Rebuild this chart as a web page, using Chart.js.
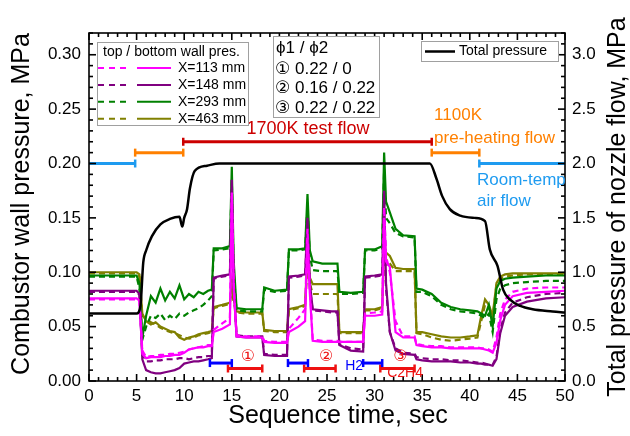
<!DOCTYPE html>
<html>
<head>
<meta charset="utf-8">
<script src="https://cdn.jsdelivr.net/npm/chart.js@4.4.1/dist/chart.umd.min.js"></script>
<style>
  html, body { margin: 0; padding: 0; background: #fff; }
</style>
</head>
<body>
<canvas id="seqChart" width="630" height="436"></canvas>
<script>
/* DATA */

// shared time grid for the wall pressure traces (sec)
const seqTime = [
  0, 5.0,
  5.3, 5.6, 6.0, 6.5, 7.0, 7.5, 8.0, 8.5, 9.0, 9.5, 10.0, 10.5, 11.0, 11.5, 12.0, 12.5, 12.9,
  13.1, 14.0, 14.8, 15.0, 15.2, 15.5, 16.5, 17.5, 18.2,
  18.4, 19.5, 20.8,
  21.0, 22.0, 22.7, 22.95, 23.2, 23.5, 24.5, 25.5, 26.1,
  26.3, 27.5, 28.8,
  29.0, 30.0, 30.8, 31.0, 31.2, 31.6, 32.2, 33.0, 34.2,
  34.4, 35.0, 36.0, 37.0, 38.0, 39.0, 40.0, 40.8, 41.2, 41.6,
  42.0, 42.4, 42.8, 43.2, 43.7, 44.5, 46.0, 48.0, 50.0
];

// X=113 mm (MPa)
const p113Top = [
  0.075, 0.075,
  0.073, 0.028, 0.022, 0.023, 0.023, 0.024, 0.024, 0.025, 0.025, 0.026, 0.027, 0.029, 0.030, 0.031, 0.032, 0.033, 0.033,
  0.047, 0.053, 0.058, 0.175, 0.090, 0.042, 0.041, 0.041, 0.041,
  0.037, 0.036, 0.036,
  0.048, 0.058, 0.066, 0.140, 0.085, 0.038, 0.037, 0.037, 0.037,
  0.036, 0.036, 0.036,
  0.062, 0.063, 0.064, 0.160, 0.115, 0.100, 0.055, 0.041, 0.041,
  0.034, 0.033, 0.032, 0.032, 0.031, 0.031, 0.031, 0.031, 0.030, 0.030,
  0.029, 0.027, 0.040, 0.062, 0.075, 0.082, 0.085, 0.086, 0.086
];
const p113Bot = [
  0.076, 0.076,
  0.074, 0.025, 0.021, 0.022, 0.022, 0.022, 0.023, 0.023, 0.024, 0.024, 0.026, 0.029, 0.030, 0.031, 0.031, 0.032, 0.032,
  0.045, 0.048, 0.052, 0.170, 0.085, 0.041, 0.040, 0.040, 0.040,
  0.036, 0.035, 0.035,
  0.045, 0.050, 0.055, 0.130, 0.080, 0.037, 0.036, 0.036, 0.036,
  0.036, 0.036, 0.036,
  0.060, 0.060, 0.061, 0.150, 0.110, 0.105, 0.045, 0.040, 0.040,
  0.033, 0.032, 0.031, 0.031, 0.030, 0.030, 0.030, 0.030, 0.030, 0.029,
  0.028, 0.026, 0.035, 0.056, 0.070, 0.078, 0.081, 0.082, 0.083
];

// X=148 mm
const p148Top = [
  0.082, 0.082,
  0.079, 0.025, 0.018, 0.018, 0.019, 0.019, 0.020, 0.020, 0.020, 0.021, 0.021, 0.020, 0.021, 0.022, 0.022, 0.023, 0.023,
  0.094, 0.096, 0.097, 0.175, 0.085, 0.042, 0.041, 0.041, 0.041,
  0.025, 0.024, 0.024,
  0.095, 0.096, 0.097, 0.140, 0.085, 0.065, 0.064, 0.063, 0.063,
  0.034, 0.030, 0.029,
  0.095, 0.096, 0.097, 0.165, 0.085, 0.045, 0.030, 0.026, 0.025,
  0.022, 0.021, 0.020, 0.020, 0.019, 0.019, 0.018, 0.017, 0.017, 0.016,
  0.015, 0.015, 0.022, 0.047, 0.063, 0.072, 0.077, 0.080, 0.081
];
const p148Bot = [
  0.083, 0.083,
  0.080, 0.020, 0.010, 0.008, 0.007, 0.007, 0.008, 0.009, 0.010, 0.012, 0.016, 0.017, 0.018, 0.018, 0.019, 0.020, 0.021,
  0.095, 0.097, 0.098, 0.185, 0.090, 0.041, 0.040, 0.040, 0.040,
  0.024, 0.023, 0.023,
  0.096, 0.097, 0.098, 0.150, 0.090, 0.066, 0.065, 0.064, 0.064,
  0.033, 0.028, 0.027,
  0.096, 0.097, 0.098, 0.175, 0.090, 0.045, 0.028, 0.025, 0.024,
  0.020, 0.019, 0.018, 0.018, 0.018, 0.017, 0.017, 0.016, 0.016, 0.015,
  0.015, 0.014, 0.020, 0.044, 0.060, 0.068, 0.073, 0.076, 0.077
];

// X=293 mm
const p293Top = [
  0.096, 0.096,
  0.085, 0.038, 0.050, 0.060, 0.058, 0.062, 0.056, 0.060, 0.057, 0.062, 0.060, 0.063, 0.065, 0.067, 0.070, 0.074, 0.078,
  0.120, 0.121, 0.122, 0.185, 0.100, 0.065, 0.064, 0.064, 0.064,
  0.084, 0.082, 0.083,
  0.120, 0.120, 0.121, 0.160, 0.115, 0.102, 0.101, 0.101, 0.101,
  0.080, 0.080, 0.081,
  0.120, 0.120, 0.122, 0.195, 0.150, 0.145, 0.136, 0.133, 0.132,
  0.082, 0.082, 0.078, 0.070, 0.066, 0.064, 0.063, 0.062, 0.060, 0.058,
  0.062, 0.045, 0.075, 0.085, 0.088, 0.090, 0.091, 0.092, 0.092
];
const p293Bot = [
  0.097, 0.097,
  0.090, 0.040, 0.060, 0.078, 0.072, 0.085, 0.074, 0.082, 0.076, 0.088, 0.075, 0.080, 0.077, 0.082, 0.080, 0.083, 0.084,
  0.122, 0.122, 0.124, 0.197, 0.110, 0.067, 0.066, 0.066, 0.066,
  0.086, 0.083, 0.084,
  0.121, 0.121, 0.122, 0.172, 0.120, 0.110, 0.108, 0.108, 0.108,
  0.082, 0.081, 0.082,
  0.121, 0.121, 0.124, 0.210, 0.165, 0.155, 0.140, 0.134, 0.133,
  0.085, 0.084, 0.080, 0.072, 0.068, 0.066, 0.065, 0.064, 0.062, 0.060,
  0.070, 0.050, 0.085, 0.092, 0.094, 0.095, 0.096, 0.097, 0.097
];

// X=463 mm
const p463Top = [
  0.099, 0.099,
  0.096, 0.060, 0.057, 0.054, 0.052, 0.049, 0.047, 0.045, 0.044, 0.042, 0.040, 0.039, 0.040, 0.042, 0.043, 0.044, 0.045,
  0.067, 0.069, 0.071, 0.085, 0.072, 0.063, 0.062, 0.062, 0.062,
  0.046, 0.045, 0.045,
  0.065, 0.067, 0.069, 0.105, 0.090, 0.080, 0.080, 0.080, 0.080,
  0.044, 0.044, 0.044,
  0.065, 0.065, 0.067, 0.120, 0.112, 0.108, 0.101, 0.101, 0.101,
  0.044, 0.043, 0.040, 0.038, 0.037, 0.038, 0.039, 0.040, 0.055, 0.070,
  0.068, 0.058, 0.088, 0.094, 0.096, 0.097, 0.098, 0.098, 0.098
];
const p463Bot = [
  0.100, 0.100,
  0.098, 0.062, 0.055, 0.052, 0.054, 0.050, 0.048, 0.046, 0.045, 0.040, 0.038, 0.040, 0.041, 0.043, 0.044, 0.045, 0.046,
  0.068, 0.070, 0.072, 0.090, 0.075, 0.064, 0.063, 0.063, 0.063,
  0.047, 0.046, 0.046,
  0.066, 0.068, 0.070, 0.120, 0.095, 0.089, 0.089, 0.089, 0.089,
  0.045, 0.045, 0.045,
  0.066, 0.066, 0.068, 0.125, 0.118, 0.115, 0.104, 0.103, 0.103,
  0.045, 0.045, 0.043, 0.041, 0.040, 0.040, 0.041, 0.042, 0.060, 0.075,
  0.070, 0.060, 0.090, 0.096, 0.098, 0.099, 0.099, 0.099, 0.099
];

// total pressure of nozzle flow (right axis, MPa)
const totalTime = [0, 5.0, 5.4, 5.7, 6.0, 6.6, 7.5, 8.5, 9.5, 9.8, 10.0, 10.3, 10.6, 11.1, 12.4, 13.7,
  35.8, 36.5, 37.1, 37.9, 39.0, 40.5, 41.6, 42.1, 42.9, 43.5, 44.2, 45.3, 46.6, 48.7, 50.0];
const totalPres = [0.62, 0.62, 0.69, 1.09, 1.20, 1.33, 1.44, 1.49, 1.51, 1.42, 1.50, 1.58, 1.77, 1.93, 1.98, 2.00,
  2.00, 1.86, 1.70, 1.58, 1.52, 1.50, 1.47, 1.21, 1.06, 0.84, 0.75, 0.69, 0.66, 0.64, 0.63];

// flow phases (top bars)
const phaseStart = [0, 4.85, 9.9, 36.0, 41.0];
const phaseEnd = [4.85, 9.9, 36.0, 41.0, 50];
const phaseLevel = [0.200, 0.210, 0.220, 0.210, 0.200];

// fuel injection periods (bottom bars)
const h2Start = [12.7, 20.9, 28.8];
const h2End = [15.0, 23.0, 30.8];
const fuelStart = [14.6, 22.6, 30.6];
const fuelEnd = [18.2, 25.9, 34.2];
const h2Level = 0.0165;
const fuelLevel = 0.0115;

// equivalence ratio cases
const caseMarks = ['①', '②', '③'];
const phi1 = ['0.22', '0.16', '0.22'];
const phi2 = ['0', '0.22', '0.22'];

const wallLabels = ['X=113 mm', 'X=148 mm', 'X=293 mm', 'X=463 mm'];

/* STYLE */

const FONT = '"Liberation Sans", Arial, "DejaVu Sans", "Noto Sans CJK JP", sans-serif';
const wallColors = ['#ff00ff', '#800080', '#008000', '#808000'];
const C_AIR = '#1e9bf0', C_HEAT = '#ff8000', C_TEST = '#cc0000';
const C_H2 = '#0000ff', C_FUEL = '#ee1111';

function wallSet(label, vals, color, dashed) {
  return {
    label: label,
    data: seqTime.map((t, i) => ({ x: t, y: vals[i] })),
    borderColor: color,
    borderWidth: 2.2,
    borderDash: dashed ? [6, 4] : [],
    pointRadius: 0,
    tension: 0,
    yAxisID: 'y'
  };
}

function barSet(color, x0, x1, level, r0, r1) {
  return {
    data: [{ x: x0, y: level }, { x: x1, y: level }],
    borderColor: color,
    borderWidth: 3,
    pointStyle: 'line',
    rotation: 90,
    pointRadius: [r0, r1],
    pointBorderColor: color,
    pointBorderWidth: 2.5,
    pointHoverRadius: 0,
    yAxisID: 'y'
  };
}

var datasets = [];
var phaseColors = [C_AIR, C_HEAT, C_TEST, C_HEAT, C_AIR];
phaseStart.forEach(function(s, i) {
  datasets.push(barSet(phaseColors[i], s, phaseEnd[i], phaseLevel[i],
    s === 0 ? 0 : 4, phaseEnd[i] === 50 ? 0 : 4));
});
h2Start.forEach(function(s, i) {
  datasets.push(barSet(C_H2, s, h2End[i], h2Level, 4, 4));
  datasets.push(barSet(C_FUEL, fuelStart[i], fuelEnd[i], fuelLevel, 4, 4));
});

datasets.push({
  label: 'Total pressure',
  data: totalTime.map((t, i) => ({ x: t, y: totalPres[i] })),
  borderColor: '#000',
  borderWidth: 2.5,
  pointRadius: 0,
  cubicInterpolationMode: 'monotone',
  yAxisID: 'y2'
});
datasets.push(wallSet('X=113 mm top', p113Top, wallColors[0], true));
datasets.push(wallSet('X=113 mm bottom', p113Bot, wallColors[0], false));
datasets.push(wallSet('X=148 mm top', p148Top, wallColors[1], true));
datasets.push(wallSet('X=148 mm bottom', p148Bot, wallColors[1], false));
datasets.push(wallSet('X=293 mm top', p293Top, wallColors[2], true));
datasets.push(wallSet('X=293 mm bottom', p293Bot, wallColors[2], false));
datasets.push(wallSet('X=463 mm top', p463Top, wallColors[3], true));
datasets.push(wallSet('X=463 mm bottom', p463Bot, wallColors[3], false));

/* PLUGINS */

function seg(ctx, x0, y0, x1, y1) {
  ctx.beginPath(); ctx.moveTo(x0, y0); ctx.lineTo(x1, y1); ctx.stroke();
}

// frame with inward major / minor ticks on all four sides
const frameTicks = {
  id: 'frameTicks',
  afterDatasetsDraw(chart) {
    const { ctx, chartArea: a, scales } = chart;
    ctx.save();
    ctx.strokeStyle = '#000';
    ctx.lineWidth = 1.6;
    ctx.strokeRect(a.left, a.top, a.right - a.left, a.bottom - a.top);
    for (let k = 0; k <= 50; k++) {
      const px = scales.x.getPixelForValue(k);
      const len = k % 5 === 0 ? 7 : 4;
      seg(ctx, px, a.bottom, px, a.bottom - len);
      seg(ctx, px, a.top, px, a.top + len);
    }
    for (let k = 0; k <= 32; k++) {
      const len = k % 5 === 0 ? 7 : 4;
      const pl = scales.y.getPixelForValue(k / 100);
      const pr = scales.y2.getPixelForValue(k / 10);
      seg(ctx, a.left, pl, a.left + len, pl);
      seg(ctx, a.right, pr, a.right - len, pr);
    }
    ctx.restore();
  }
};

// axis titles, annotation texts and the three legend boxes
const decorations = {
  id: 'decorations',
  afterDraw(chart) {
    const { ctx, scales: { x, y } } = chart;
    ctx.save();
    ctx.textBaseline = 'middle';

    // axis titles
    ctx.fillStyle = '#000';
    ctx.font = '25px ' + FONT;
    ctx.textAlign = 'center';
    ctx.fillText('Sequence time, sec', 338, 416);
    ctx.save();
    ctx.translate(22, 204); ctx.rotate(-Math.PI / 2);
    ctx.fillText('Combustor wall pressure, MPa', 0, 0);
    ctx.restore();
    ctx.save();
    ctx.translate(618, 207); ctx.rotate(-Math.PI / 2);
    ctx.fillText('Total pressure of nozzle flow, MPa', 0, 0);
    ctx.restore();

    // flow phase texts
    ctx.font = '18px ' + FONT;
    ctx.fillStyle = C_TEST;
    ctx.fillText('1700K test flow', x.getPixelForValue(23.0), y.getPixelForValue(0.232));
    ctx.font = '17px ' + FONT;
    ctx.textAlign = 'left';
    ctx.fillStyle = C_HEAT;
    ctx.fillText('1100K', x.getPixelForValue(36.25), y.getPixelForValue(0.244));
    ctx.fillText('pre-heating flow', x.getPixelForValue(36.25), y.getPixelForValue(0.223));
    ctx.fillStyle = C_AIR;
    ctx.fillText('Room-temp', x.getPixelForValue(40.75), y.getPixelForValue(0.185));
    ctx.fillText('air flow', x.getPixelForValue(40.75), y.getPixelForValue(0.165));

    // injection texts
    ctx.textAlign = 'center';
    ctx.font = '16px ' + FONT;
    ctx.fillStyle = C_FUEL;
    const markAt = [16.7, 24.9, 32.7];
    caseMarks.forEach(function(m, i) {
      ctx.fillText(m, x.getPixelForValue(markAt[i]), y.getPixelForValue(0.022));
    });
    ctx.font = '14px ' + FONT;
    ctx.fillStyle = C_H2;
    ctx.fillText('H2', x.getPixelForValue(27.85), y.getPixelForValue(0.0135));
    ctx.fillStyle = C_FUEL;
    ctx.fillText('C2H4', x.getPixelForValue(33.2), y.getPixelForValue(0.0075));

    // legend: wall pressure
    ctx.textAlign = 'left';
    ctx.fillStyle = '#fff';
    ctx.fillRect(97, 42, 151, 83);
    ctx.strokeStyle = '#a0a0a0';
    ctx.lineWidth = 1;
    ctx.strokeRect(97.5, 42.5, 151, 83);
    ctx.fillStyle = '#000';
    ctx.font = '14px ' + FONT;
    ctx.fillText('top / bottom wall pres.', 103, 52);
    wallLabels.forEach(function(lab, i) {
      const yy = 68 + i * 16.9;
      ctx.strokeStyle = wallColors[i];
      ctx.lineWidth = 2;
      ctx.setLineDash([6, 5]);
      seg(ctx, 98, yy, 127, yy);
      ctx.setLineDash([]);
      seg(ctx, 137, yy, 171, yy);
      ctx.fillText(lab, 178, yy);
    });

    // legend: equivalence ratios
    ctx.fillStyle = '#fff';
    ctx.fillRect(273, 36, 106, 81);
    ctx.strokeStyle = '#a0a0a0';
    ctx.lineWidth = 1;
    ctx.strokeRect(273.5, 36.5, 106, 81);
    ctx.fillStyle = '#000';
    ctx.font = '17px ' + FONT;
    ctx.fillText('\u03D51 / \u03D52', 276, 48);
    caseMarks.forEach(function(m, i) {
      ctx.fillText(m + ' ' + phi1[i] + ' / ' + phi2[i], 275, 69 + i * 19.5);
    });

    // legend: total pressure
    ctx.fillStyle = '#fff';
    ctx.fillRect(421, 41, 137, 20);
    ctx.strokeStyle = '#a0a0a0';
    ctx.strokeRect(421.5, 41.5, 137, 20);
    ctx.strokeStyle = '#000';
    ctx.lineWidth = 2.5;
    seg(ctx, 425, 51.5, 455, 51.5);
    ctx.fillStyle = '#000';
    ctx.font = '14px ' + FONT;
    ctx.fillText('Total pressure', 459, 51.5);

    ctx.restore();
  }
};

/* CHART */

const tickFont = { family: FONT, size: 17 };

new Chart(document.getElementById('seqChart').getContext('2d'), {
  type: 'line',
  data: { datasets: datasets },
  options: {
    responsive: false,
    animation: false,
    devicePixelRatio: 1,
    layout: { padding: { top: 33, left: 0, right: 0, bottom: 0 } },
    plugins: { legend: { display: false }, tooltip: { enabled: false } },
    scales: {
      x: {
        type: 'linear', position: 'bottom', min: 0, max: 50,
        grid: { display: false, drawTicks: false }, border: { display: false },
        ticks: { stepSize: 5, includeBounds: false, padding: 5, color: '#000', font: tickFont, maxRotation: 0 },
        afterFit: function(s) { s.height = 55; }
      },
      y: {
        position: 'left', min: 0, max: 0.32,
        grid: { display: false, drawTicks: false }, border: { display: false },
        ticks: { stepSize: 0.05, includeBounds: false, padding: 8, color: '#000', font: tickFont,
          callback: function(v) { return v.toFixed(2); } },
        afterFit: function(s) { s.width = 89; }
      },
      y2: {
        position: 'right', min: 0, max: 3.2,
        grid: { display: false, drawTicks: false }, border: { display: false },
        ticks: { stepSize: 0.5, includeBounds: false, padding: 7, color: '#000', font: tickFont,
          callback: function(v) { return v.toFixed(1); } },
        afterFit: function(s) { s.width = 65; }
      }
    }
  },
  plugins: [frameTicks, decorations]
});
</script>
</body>
</html>
